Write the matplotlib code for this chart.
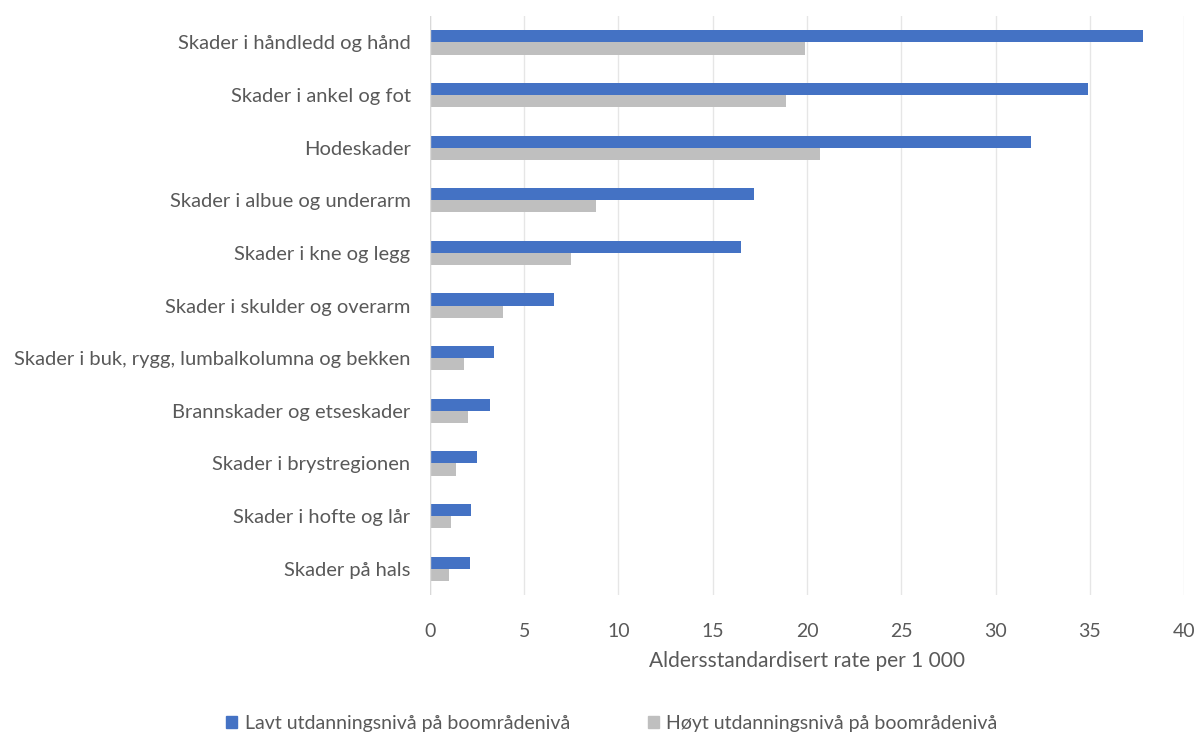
import numpy as np
import matplotlib.pyplot as plt
from matplotlib.patches import Patch

plt.rcParams['font.family'] = ['Lato', 'DejaVu Sans']

kategorier = [
    "Skader i håndledd og hånd",
    "Skader i ankel og fot",
    "Hodeskader",
    "Skader i albue og underarm",
    "Skader i kne og legg",
    "Skader i skulder og overarm",
    "Skader i buk, rygg, lumbalkolumna og bekken",
    "Brannskader og etseskader",
    "Skader i brystregionen",
    "Skader i hofte og lår",
    "Skader på hals",
]
lavt = [37.8, 34.9, 31.9, 17.2, 16.5, 6.6, 3.4, 3.2, 2.5, 2.2, 2.1]
hoyt = [19.9, 18.9, 20.7, 8.8, 7.5, 3.9, 1.8, 2.0, 1.4, 1.1, 1.0]
serier = ["Lavt utdanningsnivå på boområdenivå",
          "Høyt utdanningsnivå på boområdenivå"]

blaa = "#4472C4"
graa = "#BFBFBF"
tekst = "#595959"

fig = plt.figure(figsize=(12, 7.35), dpi=100)
ax = fig.add_axes([0.3583, 0.1905, 0.6284, 0.7875])

y = np.arange(len(kategorier))
h = 0.23
ax.barh(y - h / 2, lavt, height=h, color=blaa, zorder=3)
ax.barh(y + h / 2, hoyt, height=h, color=graa, zorder=3)

ax.set_ylim(len(kategorier) - 0.5, -0.5)
ax.set_xlim(0, 40)
ax.set_xticks(np.arange(0, 41, 5))
ax.set_yticks(y)
ax.set_yticklabels(kategorier, fontsize=14.5)
ax.tick_params(axis='both', length=0, colors=tekst)
ax.tick_params(axis='x', pad=20, labelsize=14)
ax.tick_params(axis='y', pad=14)
ax.grid(axis='x', color="#E6E6E6", linewidth=1, zorder=0)
for s in ax.spines.values():
    s.set_visible(False)
ax.axvline(0, color="#D9D9D9", linewidth=1, zorder=4)

ax.set_xlabel("Aldersstandardisert rate per 1 000", fontsize=15, color=tekst, labelpad=8)

handles = [Patch(color=blaa), Patch(color=graa)]
fig.legend(handles, serier, loc='lower center', bbox_to_anchor=(0.51, -0.02), ncol=2,
           frameon=False, fontsize=14, labelcolor=tekst, handlelength=0.55,
           handleheight=0.55, handletextpad=0.4, columnspacing=4.0)

fig.savefig("out.png", dpi=100)
